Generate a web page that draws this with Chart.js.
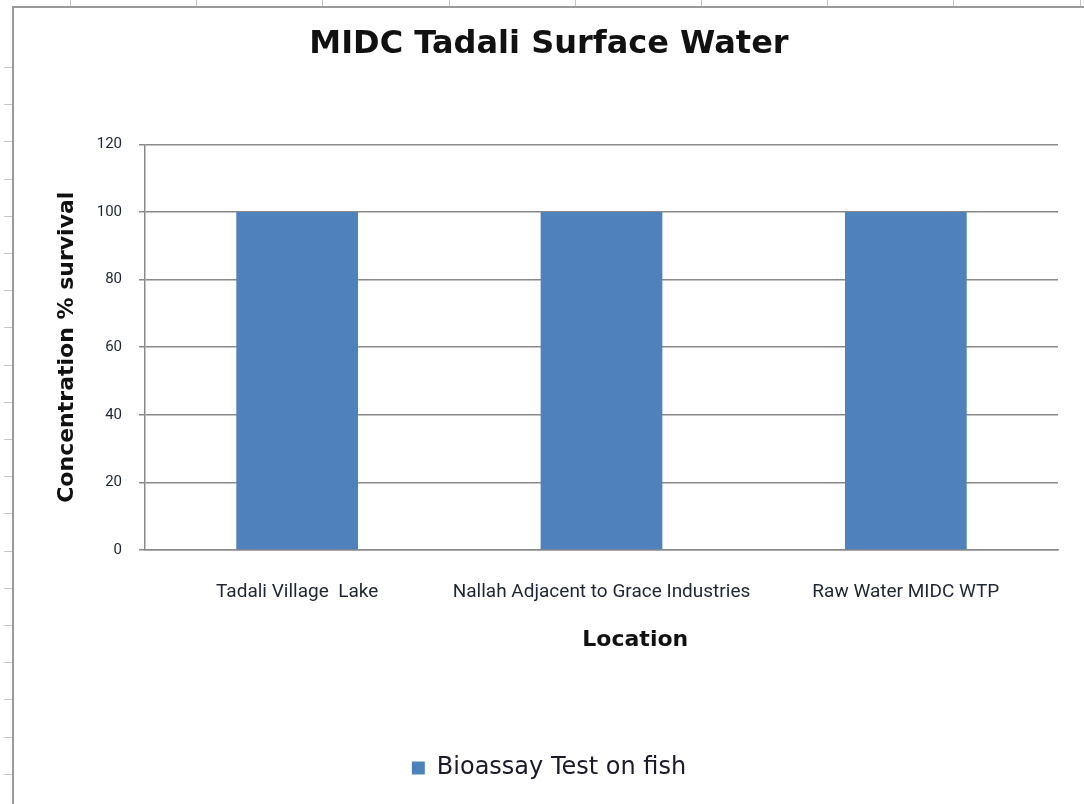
<!DOCTYPE html>
<html>
<head>
<meta charset="utf-8">
<title>MIDC Tadali Surface Water</title>
<script src="https://cdn.jsdelivr.net/npm/chart.js@4.4.1/dist/chart.umd.min.js"></script>
<style>
  html, body { margin: 0; padding: 0; background: #ffffff; }
  #wrap { width: 1084px; height: 804px; position: relative; }
</style>
</head>
<body>
<div id="wrap"><canvas id="chart" width="1084" height="804"></canvas></div>
<script>
// Sampling locations and fish bioassay survival (%)
const locations = ['Tadali Village  Lake', 'Nallah Adjacent to Grace Industries', 'Raw Water MIDC WTP'];
const survival = [100, 100, 100];
const seriesName = 'Bioassay Test on fish';
const yTicks = [0, 20, 40, 60, 80, 100, 120];

const chartTitle = 'MIDC Tadali Surface Water';
const yTitle = 'Concentration % survival';
const xTitle = 'Location';

const GRID = '#898989';
const BAR = '#4f81bd';
const TICK_TXT = '#1e2633';
const NARROW = "Roboto, 'Liberation Sans Narrow', sans-serif";
const SANS = "'DejaVu Sans', Verdana, sans-serif";

// Worksheet frame behind the chart object: border and the row/column marks
const sheetFrame = {
  id: 'sheetFrame',
  beforeDraw(chart) {
    const ctx = chart.ctx;
    const W = chart.width, H = chart.height;
    ctx.save();
    ctx.fillStyle = '#ffffff';
    ctx.fillRect(0, 0, W, H);
    ctx.strokeStyle = '#c4c4c4';
    ctx.lineWidth = 1;
    for (let x = 70; x < W; x += 126.2) {
      ctx.beginPath(); ctx.moveTo(Math.round(x) + 0.5, 0); ctx.lineTo(Math.round(x) + 0.5, 7); ctx.stroke();
    }
    for (let y = 67; y < H; y += 37.2) {
      ctx.beginPath(); ctx.moveTo(4, Math.round(y) + 0.5); ctx.lineTo(13, Math.round(y) + 0.5); ctx.stroke();
    }
    ctx.strokeStyle = '#9a9a9a';
    ctx.lineWidth = 2;
    ctx.beginPath();
    ctx.moveTo(13, H);
    ctx.lineTo(13, 7);
    ctx.lineTo(W, 7);
    ctx.stroke();
    ctx.restore();
  }
};

// Category-axis caption, set a little right of the plot centre
const xCaption = {
  id: 'xCaption',
  afterDraw(chart) {
    const a = chart.chartArea;
    const ctx = chart.ctx;
    ctx.save();
    ctx.font = 'bold 22px ' + SANS;
    ctx.fillStyle = '#111111';
    ctx.textAlign = 'center';
    ctx.textBaseline = 'middle';
    ctx.fillText(xTitle, a.left + (a.right - a.left) * 0.537, a.bottom + 90);
    ctx.restore();
  }
};

new Chart(document.getElementById('chart'), {
  type: 'bar',
  data: {
    labels: locations,
    datasets: [{
      label: seriesName,
      data: survival,
      backgroundColor: BAR,
      borderWidth: 0,
      categoryPercentage: 1.0,
      barPercentage: 0.4
    }]
  },
  options: {
    responsive: false,
    animation: false,
    devicePixelRatio: 1,
    layout: { padding: { left: 40, right: 26, top: 0, bottom: 14 } },
    plugins: {
      title: {
        display: true,
        text: chartTitle,
        color: '#111111',
        font: { family: SANS, size: 32, weight: 'bold', lineHeight: 1.2 },
        padding: { top: 25, bottom: 81 }
      },
      legend: {
        position: 'bottom',
        labels: {
          boxWidth: 13,
          boxHeight: 13,
          padding: 10,
          color: '#1a1a2a',
          font: { family: SANS, size: 24 }
        }
      },
      tooltip: { enabled: false }
    },
    scales: {
      x: {
        grid: { display: false },
        border: { display: true, color: GRID, width: 1.5 },
        ticks: {
          color: TICK_TXT,
          font: { family: NARROW, size: 19 },
          padding: 23,
          maxRotation: 0,
          autoSkip: false
        },
        afterFit(scale) { scale.height = 196; }
      },
      y: {
        min: 0,
        max: 120,
        afterBuildTicks(scale) { scale.ticks = yTicks.map(v => ({ value: v })); },
        grid: { color: GRID, lineWidth: 1.5, tickLength: 6, drawTicks: true },
        border: { display: true, color: GRID, width: 1.5 },
        ticks: {
          color: TICK_TXT,
          font: { family: NARROW, size: 15 },
          padding: 17
        },
        title: {
          display: true,
          text: yTitle,
          color: '#111111',
          font: { family: SANS, size: 22, weight: 'bold', lineHeight: 1.2 },
          padding: { top: 14, bottom: 0 }
        },
        afterFit(scale) { scale.width = 105; }
      }
    }
  },
  plugins: [sheetFrame, xCaption]
});
</script>
</body>
</html>
